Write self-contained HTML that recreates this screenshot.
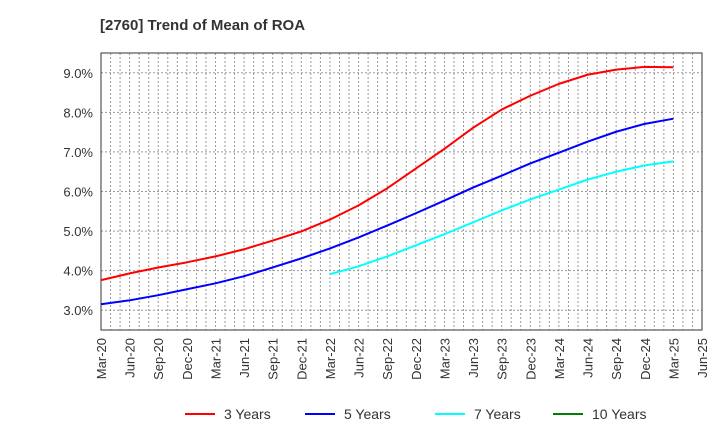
<!DOCTYPE html>
<html><head><meta charset="utf-8"><style>
body{margin:0;background:#fff;font-family:"Liberation Sans",sans-serif}
svg text{font-family:"Liberation Sans",sans-serif}
</style></head><body>
<svg id="chart" width="720" height="440">
<text x="100" y="30" font-size="15" font-weight="bold" fill="#333">[2760]  Trend of Mean of ROA</text>
<g id="grid"></g><g id="axes"></g><g id="series"></g><g id="legend"></g>
</svg>
<script>
const categories=["Mar-20","Jun-20","Sep-20","Dec-20","Mar-21","Jun-21","Sep-21","Dec-21","Mar-22","Jun-22","Sep-22","Dec-22","Mar-23","Jun-23","Sep-23","Dec-23","Mar-24","Jun-24","Sep-24","Dec-24","Mar-25","Jun-25"];
const yTicks=[3,4,5,6,7,8,9];
const s3=[3.76,3.93,4.08,4.21,4.36,4.54,4.76,4.99,5.29,5.65,6.08,6.58,7.08,7.61,8.07,8.42,8.72,8.95,9.08,9.15,9.14];
const s5=[3.15,3.25,3.38,3.53,3.68,3.86,4.08,4.31,4.56,4.84,5.14,5.45,5.77,6.10,6.40,6.71,6.98,7.26,7.51,7.71,7.84];
const s7=[null,null,null,null,null,null,null,null,3.91,4.11,4.36,4.64,4.92,5.22,5.52,5.80,6.05,6.30,6.50,6.66,6.76];
const s10=[];
const L=101,R=702,T=53,B=330,yMin=2.5,yMax=9.5;
const ns="http://www.w3.org/2000/svg";
const X=i=>L+(R-L)*i/(categories.length-1);
const Y=v=>B-(v-yMin)/(yMax-yMin)*(B-T);
function mk(t,a,p){const e=document.createElementNS(ns,t);for(const k in a)e.setAttribute(k,a[k]);p.appendChild(e);return e;}
const grid=document.getElementById('grid'),axes=document.getElementById('axes'),ser=document.getElementById('series'),leg=document.getElementById('legend');
for(let m=1;m<(categories.length-1)*3;m++){const x=L+(R-L)*m/((categories.length-1)*3);
const g=mk('line',{x1:x,x2:x,y1:T,y2:B,stroke:'#999','stroke-dasharray':'2,2','stroke-width':1},grid);

}
yTicks.forEach(v=>{const y=Y(v);
const g=mk('line',{x1:L,x2:R,y1:y,y2:y,stroke:'#999','stroke-dasharray':'2,2'},grid);


const t=mk('text',{x:L-8,y:y+5,'text-anchor':'end','font-size':13,fill:'#333'},axes);t.textContent=v.toFixed(1)+'%';

});
const fr=mk('rect',{x:L,y:T,width:R-L,height:B-T,fill:'none',stroke:'#333','stroke-width':1},axes);


categories.forEach((c,i)=>{const x=X(i);const t=mk('text',{transform:`translate(${x+5},${B+8}) rotate(-90)`,'text-anchor':'end','font-size':13,fill:'#333'},axes);t.textContent=c;

});
function line(data,color,name){let d='';data.forEach((v,i)=>{if(v==null)return;d+=(d?'L':'M')+X(i)+','+Y(v);});
if(!d)return;const p=mk('path',{d:d,fill:'none',stroke:color,'stroke-width':2,'stroke-linejoin':'round'},ser);

}
line(s3,'#ff0000','series-3-years');line(s5,'#0000ff','series-5-years');line(s7,'#00ffff','series-7-years');line(s10,'#008000','series-10-years');
[['3 Years','#ff0000',185],['5 Years','#0000ff',305],['7 Years','#00ffff',435],['10 Years','#008000',553]].forEach(e=>{
const g=mk('g',{},leg);


mk('line',{x1:e[2],x2:e[2]+30,y1:414,y2:414,stroke:e[1],'stroke-width':2},g);
const t=mk('text',{x:e[2]+39,y:419,'font-size':14,fill:'#333'},g);t.textContent=e[0];});
</script>
</body></html>
